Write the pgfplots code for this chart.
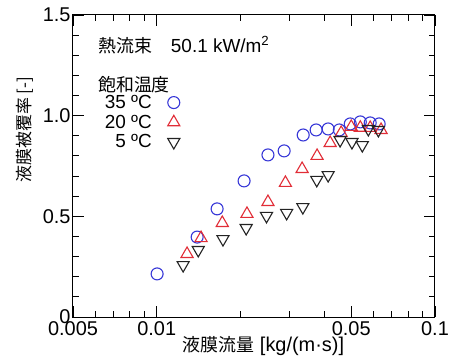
\documentclass[border=0pt]{standalone}
\usepackage{pgfplots}
\pgfplotsset{compat=1.18}
\usepackage{fontspec}
\setmainfont{Liberation Sans}
\newfontfamily\cjk{Noto Sans CJK JP}
\definecolor{cblue}{RGB}{55,55,215}
\definecolor{cred}{RGB}{225,45,55}
\definecolor{cblk}{RGB}{35,35,35}

\pgfplotstableread{
x y
0.01003 0.214
0.01397 0.397
0.01648 0.537
0.0206 0.676
0.0251 0.805
0.0287 0.825
0.0336 0.904
0.0374 0.929
0.0413 0.934
0.0453 0.929
0.0496 0.959
0.0539 0.969
0.0585 0.964
0.0630 0.959
}\tabA
\pgfplotstableread{
x y
0.01285 0.313
0.01443 0.392
0.0172 0.467
0.0211 0.512
0.0251 0.571
0.0290 0.666
0.0333 0.735
0.0377 0.800
0.0420 0.864
0.0460 0.914
0.0500 0.944
0.0539 0.940
0.0585 0.939
0.0640 0.929
}\tabB
\pgfplotstableread{
x y
0.01244 0.258
0.0141 0.333
0.0173 0.387
0.02096 0.442
0.0248 0.502
0.0293 0.517
0.0335 0.546
0.0376 0.681
0.0413 0.705
0.0456 0.879
0.0503 0.869
0.0548 0.854
0.0576 0.934
0.0626 0.929
}\tabC

\begin{document}
\begin{tikzpicture}
\begin{axis}[
  scale only axis, width=362bp, height=302bp,
  xmode=log, xmin=0.005, xmax=0.1, ymin=0, ymax=1.5,
  xtick={0.005,0.01,0.05,0.1}, xticklabels={0.005,0.01,0.05,0.1},
  minor xtick={0.006,0.007,0.008,0.009,0.02,0.03,0.04,0.06,0.07,0.08,0.09},
  ytick={0,0.5,1,1.5}, yticklabels={0,0.5,1.0,1.5},
  minor ytick={0.1,0.2,0.3,0.4,0.6,0.7,0.8,0.9,1.1,1.2,1.3,1.4},
  major tick length=11bp, minor tick length=6bp,
  tick style={black, line width=0.9bp},
  axis line style={black, line width=1bp},
  ticklabel style={font=\fontsize{20}{22}\selectfont},
  xticklabel style={yshift=-1bp},
  yticklabel style={xshift=1bp},
  xlabel={{\fontsize{18}{20}\selectfont\cjk 液膜流量}\ \ {\fontsize{20}{22}\selectfont [kg/(m·s)]}},
  xlabel style={at={(axis description cs:0.526,-0.096)}, anchor=center},
  ylabel={{\fontsize{17}{20}\selectfont\cjk 液膜被覆率 [-]}},
  ylabel style={at={(axis description cs:-0.133,0.62)}, anchor=center},
  legend style={draw=none, fill=none, at={(axis description cs:0.304,0.745)}, anchor=north east,
    font=\fontsize{19}{20}\selectfont, row sep=3bp, column sep=14bp,
    nodes={inner xsep=2bp, inner ysep=1bp}},
  legend cell align=right, legend plot pos=right,
]
\addplot[only marks, mark=o, mark size=6bp, color=cblue, line width=1.1bp] table[x=x,y=y]{\tabA};
\addlegendentry{35 ºC}
\addplot[only marks, mark=triangle, mark size=7bp, color=cred, line width=1.1bp] table[x=x,y=y]{\tabB};
\addlegendentry{20 ºC}
\addplot[only marks, mark=triangle, mark size=7bp, mark options={rotate=180}, color=cblk, line width=1.1bp] table[x=x,y=y]{\tabC};
\addlegendentry{5 ºC}
\node[anchor=west, inner sep=0pt] at (rel axis cs:0.069,0.9007) {{\fontsize{18}{20}\selectfont\cjk 熱流束}\hspace{19bp}{\fontsize{19}{20}\selectfont 50.1 kW/m\textsuperscript{2}}};
\node[anchor=west, inner sep=0pt] at (rel axis cs:0.069,0.77) {\fontsize{18}{20}\selectfont\cjk 飽和温度};
\end{axis}
\pgfresetboundingbox
\path ([xshift=-73bp,yshift=-46bp]current axis.south west) rectangle ([xshift=22bp,yshift=15bp]current axis.north east);
\end{tikzpicture}
\end{document}
